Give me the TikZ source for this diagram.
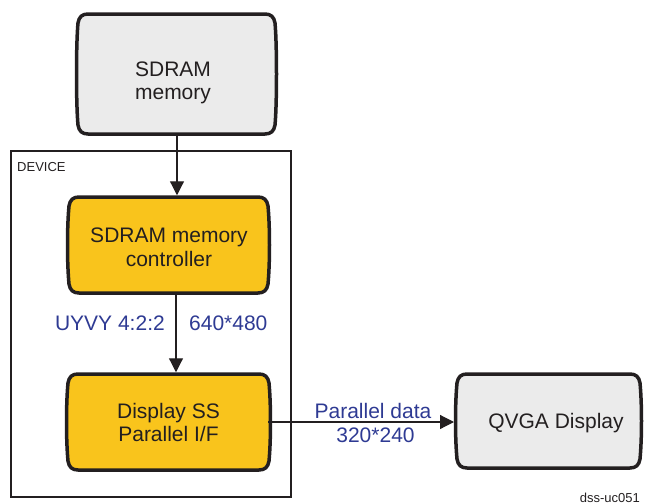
\documentclass[tikz,border=0pt]{standalone}
\usepackage{fontspec}
\setmainfont{Liberation Sans}
\usetikzlibrary{arrows.meta,calc,backgrounds}
\definecolor{boxgray}{HTML}{EBEBEB}
\definecolor{boxyellow}{HTML}{F9C41C}
\definecolor{lblue}{HTML}{2E3A93}
\definecolor{ink}{HTML}{231F20}
\tikzset{
 shapebox/.style={draw=none, inner sep=0pt, outer sep=0pt, rectangle},
 boxtext/.style={align=center, font=\fontsize{21}{23.5}\selectfont, text=ink, inner sep=0pt},
 lbl/.style={font=\fontsize{21}{24}\selectfont, text=lblue, inner sep=0pt},
 smalltext/.style={font=\fontsize{13}{15}\selectfont, text=ink, inner sep=0pt},
 arr/.style={draw=ink, line width=1.2pt, -{Triangle[width=14pt,length=14pt]}},
 barrelline/.style={draw=ink, line width=3.5pt, line join=round},
 devbox/.style={draw=ink, line width=1.5pt, inner sep=0pt, outer sep=0pt, rectangle},
}
\newcommand\drawbarrel[2]{%
 \path[barrelline, fill=#2] let \p1=(#1.north west), \p2=(#1.south east) in
 (\x1+9pt,\y1) -- (\x2-9pt,\y1)
 .. controls (\x2-3pt,\y1) and (\x2,\y1-3pt) .. (\x2+1pt,\y1-9pt)
 .. controls (\x2+3pt,\y1-30pt) and (\x2+3pt,\y2+30pt) .. (\x2+1pt,\y2+9pt)
 .. controls (\x2,\y2+3pt) and (\x2-3pt,\y2) .. (\x2-9pt,\y2)
 -- (\x1+9pt,\y2)
 .. controls (\x1+3pt,\y2) and (\x1,\y2+3pt) .. (\x1-1pt,\y2+9pt)
 .. controls (\x1-3pt,\y2+30pt) and (\x1-3pt,\y1-30pt) .. (\x1-1pt,\y1-9pt)
 .. controls (\x1,\y1-3pt) and (\x1+3pt,\y1) .. cycle;
}
\begin{document}
\begin{tikzpicture}[x=1pt,y=-1pt]
\useasboundingbox (0,0) rectangle (649,504);
% device frame
\node[devbox, minimum width=280pt, minimum height=346pt] (dev) at (151,324) {};
% boxes
\node[shapebox, minimum width=195pt, minimum height=120pt] (mem) at (176.5,74) {};
\node[shapebox, minimum width=197pt, minimum height=96pt] (ctrl) at (168.5,245) {};
\node[shapebox, minimum width=199pt, minimum height=96pt] (disp) at (168.5,422) {};
\node[shapebox, minimum width=181pt, minimum height=94pt] (qvga) at (548.5,421) {};
\begin{scope}[on background layer]
\drawbarrel{mem}{boxgray}
\drawbarrel{ctrl}{boxyellow}
\drawbarrel{disp}{boxyellow}
\drawbarrel{qvga}{boxgray}
\end{scope}
% texts
\node[boxtext] (memtxt) at (173,83) {SDRAM\\memory};
\node[boxtext] (ctrltxt) at (169,247.5) {SDRAM memory\\controller};
\node[boxtext] (disptxt) at (168.5,422.5) {Display SS\\Parallel I/F};
\node[boxtext, anchor=base] (qvgatxt) at (556,428) {QVGA Display};
\node[smalltext, anchor=base west] (devtxt) at (17,171) {DEVICE};
\node[smalltext, anchor=base east] (tag) at (640,502) {dss-uc051};
\node[lbl, anchor=base east] (fmt) at (165,330) {UYVY 4:2:2};
\node[lbl, anchor=base west] (res) at (189,330) {640*480};
\node[lbl, anchor=base] (pd) at (373,418) {Parallel data};
\node[lbl, anchor=base] (pres) at (375.5,442) {320*240};
% connectors
\coordinate (ax1) at (177,0);
\coordinate (ax2) at (176,0);
\draw[arr, shorten >=1.75pt] (mem.south -| ax1) -- (ctrl.north -| ax1);
\draw[arr, shorten >=1.75pt] (ctrl.south -| ax2) -- (disp.north -| ax2);
\draw[arr, shorten >=4pt] (disp.east) -- (qvga.west |- disp.east);
\end{tikzpicture}
\end{document}
